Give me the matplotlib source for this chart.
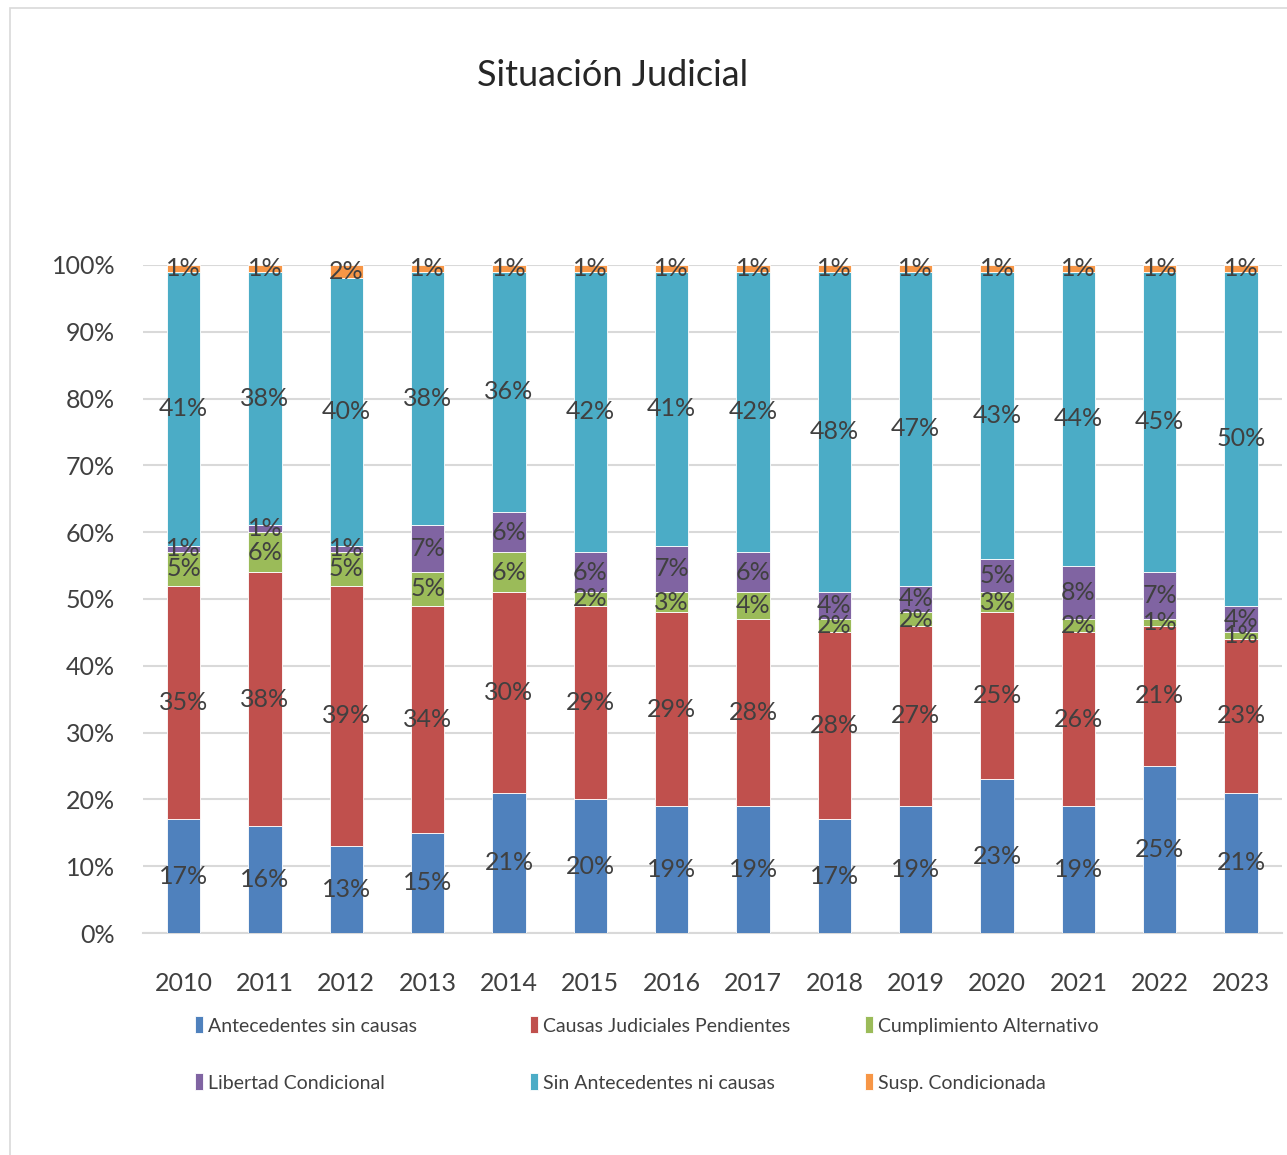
import matplotlib
matplotlib.use("Agg")
import matplotlib.pyplot as plt
from matplotlib.patches import Rectangle
import numpy as np

plt.rcParams['font.family'] = ['Lato', 'DejaVu Sans']

years = ['2010', '2011', '2012', '2013', '2014', '2015', '2016', '2017',
         '2018', '2019', '2020', '2021', '2022', '2023']
series_names = ['Antecedentes sin causas', 'Causas Judiciales Pendientes',
                'Cumplimiento Alternativo', 'Libertad Condicional',
                'Sin Antecedentes ni causas', 'Susp. Condicionada']
antecedentes = [17, 16, 13, 15, 21, 20, 19, 19, 17, 19, 23, 19, 25, 21]
causas = [35, 38, 39, 34, 30, 29, 29, 28, 28, 27, 25, 26, 21, 23]
cumplimiento = [5, 6, 5, 5, 6, 2, 3, 4, 2, 2, 3, 2, 1, 1]
libertad = [1, 1, 1, 7, 6, 6, 7, 6, 4, 4, 5, 8, 7, 4]
sin_antecedentes = [41, 38, 40, 38, 36, 42, 41, 42, 48, 47, 43, 44, 45, 50]
susp = [1, 1, 2, 1, 1, 1, 1, 1, 1, 1, 1, 1, 1, 1]
colors = ['#4F81BD', '#C0504D', '#9BBB59', '#8064A2', '#4BACC6', '#F79646']

data = [antecedentes, causas, cumplimiento, libertad, sin_antecedentes, susp]

fig = plt.figure(figsize=(12.87, 11.55), dpi=100)
ax = fig.add_axes([0.111, 0.1922, 0.885, 0.5784])

x = np.arange(len(years))
arr = np.array(data, dtype=float)
totals = arr.sum(axis=0)
frac = arr / totals
bottom = np.zeros(len(years))
label_color = '#404040'
handles = []
for i, (name, vals) in enumerate(zip(series_names, frac)):
    bars = ax.bar(x, vals, 0.41, bottom=bottom, color=colors[i], label=name,
                  edgecolor='white', linewidth=0.6, zorder=3)
    handles.append(bars)
    for j, b in enumerate(bars):
        ax.text(x[j], bottom[j] + vals[j] / 2, f"{data[i][j]}%", ha='center', va='center',
                fontsize=18, color=label_color, zorder=5)
    bottom += vals

ax.set_ylim(0, 1)
ax.set_xlim(-0.5, len(years) - 0.5)
ticks = np.arange(0, 1.01, 0.1)
ax.set_yticks(ticks)
ax.set_yticklabels([f"{int(round(v*100))}%" for v in ticks])
ax.set_xticks(x)
ax.set_xticklabels(years)
ax.tick_params(axis='both', length=0, labelsize=18, colors='#404040')
ax.tick_params(axis='y', pad=20)
ax.tick_params(axis='x', pad=28)
ax.yaxis.grid(True, color='#D9D9D9', linewidth=1.5, zorder=0)
for s in ['left', 'right', 'top']:
    ax.spines[s].set_visible(False)
ax.spines['bottom'].set_color('#D9D9D9')
ax.spines['bottom'].set_linewidth(1.5)

fig.text(0.476, 0.935, 'Situación Judicial', ha='center', va='center', fontsize=26, color='#262626')

col_x = [195/1287, 530/1287, 865/1287]
for c in range(3):
    hs = [handles[c], handles[c + 3]]
    ls = [series_names[c], series_names[c + 3]]
    leg = fig.legend(hs, ls, loc='center left', bbox_to_anchor=(col_x[c], 1 - 1054/1155),
                     ncol=1, frameon=False, fontsize=14, handlelength=0.42, handleheight=0.95,
                     handletextpad=0.25, labelspacing=2.0, borderpad=0, borderaxespad=0,
                     labelcolor='#404040')

fig.patches.append(Rectangle((10/1287, -0.01), 1.0, 1.01 - 8/1155, transform=fig.transFigure,
                             fill=False, edgecolor='#D9D9D9', linewidth=1.2))

fig.savefig('out.png', dpi=100, facecolor='white')
